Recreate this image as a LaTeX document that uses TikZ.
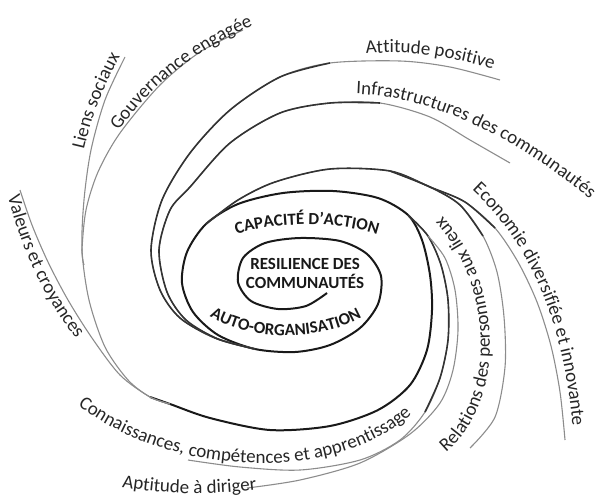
\documentclass[tikz,border=0pt]{standalone}
\usepackage{fontspec}
\setmainfont{Carlito}
\usetikzlibrary{decorations.text}

\newcommand\armfont{\fontsize{9.5}{11}\selectfont}
\newcommand\corefont{\fontsize{8.5}{9.5}\selectfont\bfseries}

\tikzset{
  core/.style={line width=1pt, draw=black!90},
  arm/.style={line width=0.8pt, draw=black!80},
  fade/.style={line width=0.55pt, draw=black!45},
  armlabel/.style={decorate, decoration={text along path, text color=black!85, text={|\armfont|#1}}},
  corelabel/.style={decorate, decoration={text along path, text align=center, text color=black!90, text={|\corefont|#1}}},
}

\begin{document}
\begin{tikzpicture}[x=0.5pt,y=-0.5pt]
\useasboundingbox (0,0) rectangle (597,498);

% central spiral
\draw[core] plot[smooth] coordinates {(327,293) (306,306) (278,309) (251,301) (238,282) (243,258) (265,243) (300,238) (340,241) (367,254) (381,276) (378,304) (360,328) (330,345) (295,352) (255,349) (218,335) (193,312) (182,283) (187,252) (206,224) (238,204) (283,193) (333,191) (378,198) (408,215) (422,240) (430,275) (432,310) (427,350) (410,385) (378,410) (330,426) (270,430) (210,418) (170,404) (150,397)};

% arms to the left
\draw[fade] plot[smooth] coordinates {(170,404) (150,397) (128,380) (105,347) (89,300) (82,250) (84,200) (91,150) (105,100) (125,57)};
\draw[fade] plot[smooth] coordinates {(84,265) (82,250) (86,210) (98,172) (120,133) (160,85) (200,52) (243,30)};
\draw[fade] plot[smooth] coordinates {(170,404) (150,397) (120,375) (92,338) (68,300) (48,262) (32,225) (20,190)};

% arms over the top
\draw[fade] plot[smooth] coordinates {(255,349) (215,338) (180,318) (160,290) (151,250) (162,200) (190,153) (230,110) (280,77) (330,63) (400,61) (450,67) (500,80)};
\draw[arm] plot[smooth] coordinates {(255,349) (215,338) (180,318) (160,290) (151,250) (162,200) (190,153) (230,110) (280,77) (330,63)};
\draw[fade] plot[smooth] coordinates {(255,349) (218,339) (186,320) (167,292) (159,250) (170,210) (190,187) (230,143) (280,113) (330,103) (380,103) (430,117) (470,140) (510,163)};
\draw[arm] plot[smooth] coordinates {(255,349) (218,339) (186,320) (167,292) (159,250) (170,210) (190,187) (230,143) (280,113) (330,103) (380,103)};

% arms down the right
\draw[fade] plot[smooth] coordinates {(206,224) (238,200) (275,182) (330,169) (390,171) (430,187) (465,202) (495,228) (518,262) (537,302) (551,346) (560,392) (565,440)};
\draw[arm] plot[smooth] coordinates {(206,224) (238,200) (275,182) (330,169) (390,171) (430,187) (465,202) (495,228)};
\draw[fade] plot[smooth] coordinates {(390,171) (430,187) (460,205) (483,236) (497,272) (504,317) (505,367) (495,417) (470,448)};
\draw[arm] plot[smooth] coordinates {(390,171) (430,187) (460,205) (483,236)};

% arms along the bottom
\draw[fade] plot[smooth] coordinates {(408,215) (428,236) (441,265) (448,300) (448,340) (440,378) (425,412) (400,440) (360,460) (300,470) (240,467) (188,460)};
\draw[arm] plot[smooth] coordinates {(408,215) (428,236) (441,265) (448,300) (448,340) (440,378) (425,412)};
\draw[fade] plot[smooth] coordinates {(428,236) (445,258) (455,290) (458,330) (453,370) (440,403) (410,434) (360,463) (300,480) (247,488)};

% labels
\path[armlabel={Liens sociaux}] (84,150) .. controls (92,115) and (105,80) .. (130,40);
\path[armlabel={Gouvernance engagée}] (119,131) .. controls (150,85) and (200,45) .. (275,17);
\path[armlabel={Valeurs et croyances}] (8,196) .. controls (25,265) and (55,320) .. (105,372);
\path[armlabel={Attitude positive}] (366,54) .. controls (420,48) and (480,62) .. (530,83);
\path[armlabel={Infrastructures des communautés}] (356,94) .. controls (440,97) and (530,145) .. (612,218);
\path[armlabel={Economie diversifiée et innovante}] (472,190) .. controls (535,248) and (573,340) .. (575,475);
\path[armlabel={Relations des personnes aux lieux}] (446,452) .. controls (510,400) and (505,265) .. (425,200);
\path[armlabel={Connaissances, compétences et apprentissage}] (78,405) .. controls (180,485) and (370,485) .. (432,390);
\path[armlabel={Aptitude à diriger}] (122,487) .. controls (180,497) and (240,495) .. (300,482);

\path[corelabel={CAPACITÉ D'ACTION}] (215,244) .. controls (260,218) and (354,218) .. (399,244);
\path[corelabel={AUTO-ORGANISATION}] (196,306) .. controls (240,345) and (330,345) .. (376,308);
\node[font=\corefont, text=black!90, align=center] (core) at (305,273) {RESILIENCE DES\\COMMUNAUTÉS};
\end{tikzpicture}
\end{document}
